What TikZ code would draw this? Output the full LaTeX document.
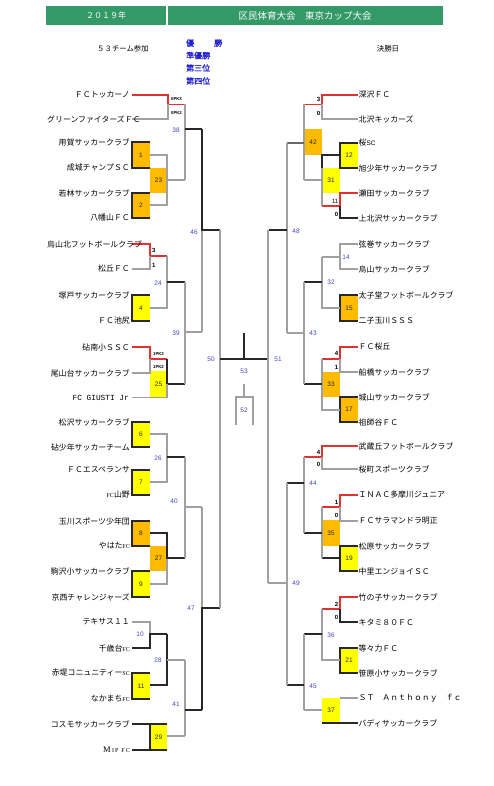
\documentclass[tikz,border=0pt]{standalone}
\usepackage{fontspec}
\setmainfont{Noto Sans CJK JP}
\newfontfamily\latf{Liberation Sans}
\newfontfamily\monof{Liberation Mono}
\newfontfamily\serff{Liberation Serif}
\newfontfamily\jpbold[FakeBold=1.2]{Noto Sans CJK JP}
\definecolor{hdr}{RGB}{51,153,102}
\definecolor{org}{RGB}{255,187,0}
\definecolor{yel}{RGB}{255,255,0}
\definecolor{lgray}{RGB}{160,160,160}
\definecolor{dk}{RGB}{40,40,40}
\definecolor{rdl}{RGB}{225,50,50}
\definecolor{mblue}{RGB}{70,70,200}
\definecolor{tblue}{RGB}{30,30,210}
\tikzset{
 gr/.style={draw=lgray,line width=1.1pt},
 bk/.style={draw=dk,line width=1.1pt},
 rd/.style={draw=rdl,line width=1.6pt},
 teamL/.style={anchor=east,inner sep=0pt,font=\fontsize{7.9}{9}\selectfont},
 teamR/.style={anchor=west,inner sep=0pt,font=\fontsize{7.9}{9}\selectfont},
 mno/.style={text=mblue,inner sep=0pt,font=\latf\fontsize{6.5}{7}\selectfont},
 bno/.style={text=dk,inner sep=0pt,font=\latf\fontsize{6.5}{7}\selectfont},
 scr/.style={inner sep=0pt,font=\latf\bfseries\fontsize{6}{7}\selectfont},
 pk/.style={inner sep=0pt,font=\latf\bfseries\fontsize{4.3}{5}\selectfont},
 hd/.style={text=white,inner sep=0pt},
 rank/.style={text=tblue,anchor=west,inner sep=0pt,font=\jpbold\fontsize{8}{9}\selectfont},
}
\newcommand\mbx[6]{\fill[#5] (#1,#2) rectangle (#3,#4); \node[bno] at ({(#1+#3)/2},{(#2+#4)/2}) {#6};}
\newcommand\tL[3]{\node[teamL] (#1) at (130,#2) {#3};}
\newcommand\tR[3]{\node[teamR] (#1) at (358.5,#2) {#3};}
\newcommand\smfc[1]{{\serff\fontsize{6}{7}\selectfont #1}}
\begin{document}
\begin{tikzpicture}[x=1pt,y=-1pt]
\fill[white] (0,0) rectangle (494,786);
\useasboundingbox (0,0) rectangle (494,786);
% header
\fill[hdr] (46,6) rectangle (166,25);
\fill[hdr] (168,6) rectangle (443,25);
\node[hd,font=\fontsize{8}{9}\selectfont] (year) at (106,15.5) {２０１９年};
\node[hd,font=\fontsize{9.5}{10}\selectfont] (title) at (305,15.5) {区民体育大会　東京カップ大会};
\node[inner sep=0pt,font=\fontsize{7.4}{9}\selectfont] (teams) at (123,49) {５３チーム参加};
\node[inner sep=0pt,font=\fontsize{7.4}{9}\selectfont] (final) at (388,49) {決勝日};
\node[rank] (r1) at (186,43) {優\hspace{20pt}勝};
\node[rank] (r2) at (186,55.5) {準優勝};
\node[rank] (r3) at (186,68) {第三位};
\node[rank] (r4) at (186,81) {第四位};
% ---------------- boxes left
\mbx{132}{142}{150}{168}{org}{1}
\mbx{132}{193}{150}{218}{org}{2}
\mbx{150}{168}{167}{193}{org}{23}
\mbx{132}{295}{150}{321}{yel}{4}
\mbx{150}{371}{167}{397}{yel}{25}
\mbx{132}{422}{150}{447}{yel}{6}
\mbx{132}{470}{150}{495}{yel}{7}
\mbx{132}{521}{150}{546}{org}{8}
\mbx{132}{571}{150}{597}{yel}{9}
\mbx{150}{546}{167}{571}{org}{27}
\mbx{132}{673}{150}{699}{yel}{11}
\mbx{150}{724}{167}{750}{yel}{29}
% ---------------- boxes right
\mbx{340}{143}{358}{168}{yel}{12}
\mbx{322}{168}{340}{193}{yel}{31}
\mbx{304}{129}{322}{155}{org}{42}
\mbx{340}{295}{358}{321}{org}{15}
\mbx{340}{397}{358}{422}{org}{17}
\mbx{322}{372}{340}{397}{org}{33}
\mbx{340}{546}{358}{571}{yel}{19}
\mbx{322}{520}{340}{546}{org}{35}
\mbx{340}{648}{358}{673}{yel}{21}
\mbx{322}{698}{340}{723}{yel}{37}
% ---------------- left lines
\draw[rd] (132,95) -- (168,95) -- (168,104.5) -- (185,104.5);
\draw[gr] (132,119) -- (168,119) -- (168,104.5);
\node[pk] (pk1) at (176.5,99.5) {0PK3};
\node[pk] (pk2) at (176.5,113) {0PK2};
\draw[bk] (150,142) -- (132,142) -- (132,168) -- (150,168);
\draw[bk] (150,193) -- (132,193) -- (132,218) -- (150,218);
\draw[gr] (150,155) -- (167,155) -- (167,205) -- (150,205);
\draw[gr] (167,180) -- (185,180);
\draw[gr] (185,104.5) -- (185,180);
\draw[bk] (185,129) -- (202,129);
\node[mno] (n38) at (176,130) {38};
\draw[rd] (132,244) -- (150,244) -- (150,256) -- (167,256);
\draw[gr] (132,269) -- (150,269) -- (150,256);
\node[scr,anchor=west] (s3a) at (152,250.5) {3};
\node[scr,anchor=west] (s3b) at (152,265) {1};
\draw[bk] (150,295) -- (132,295) -- (132,321) -- (150,321);
\draw[gr] (150,308) -- (167,308) -- (167,256);
\draw[bk] (167,282) -- (185,282);
\node[mno] (n24) at (158,283) {24};
\draw[rd] (132,347) -- (150,347) -- (150,359) -- (167,359);
\draw[gr] (132,373) -- (150,373) -- (150,359);
\node[pk] (pk3) at (158.5,354) {1PK3};
\node[pk] (pk4) at (158.5,367) {1PK2};
\draw[bk] (167,359) -- (167,384) -- (185,384);
\draw[gr] (132,397.5) -- (167,397.5) -- (167,384);
\draw[gr] (185,282) -- (185,384);
\draw[gr] (185,332) -- (202,332);
\node[mno] (n39) at (176,333) {39};
\draw[gr] (202,230) -- (202,332);
\draw[bk] (202,129) -- (202,230) -- (220,230);
\node[mno] (n46) at (194,232) {46};
\draw[bk] (150,422) -- (132,422) -- (132,447) -- (150,447);
\draw[bk] (150,470) -- (132,470) -- (132,495) -- (150,495);
\draw[gr] (150,434) -- (167,434) -- (167,482) -- (150,482);
\draw[bk] (167,457) -- (185,457);
\node[mno] (n26) at (158,458) {26};
\draw[bk] (150,521) -- (132,521) -- (132,546) -- (150,546);
\draw[bk] (150,571) -- (132,571) -- (132,597) -- (150,597);
\draw[gr] (167,558) -- (167,584) -- (150,584);
\draw[bk] (150,533) -- (167,533) -- (167,558) -- (185,558);
\draw[gr] (185,457) -- (185,558);
\draw[gr] (185,507) -- (202,507);
\node[mno] (n40) at (174,501) {40};
\draw[gr] (132,622) -- (150,622) -- (150,634);
\draw[bk] (132,648) -- (150,648) -- (150,634) -- (167,634);
\node[mno] (n10) at (140,634) {10};
\draw[bk] (150,673) -- (132,673) -- (132,699) -- (150,699);
\draw[bk] (150,685) -- (167,685) -- (167,634);
\draw[gr] (167,660) -- (185,660);
\node[mno] (n28) at (158,660) {28};
\draw[bk] (132,724) -- (167,724);
\draw[bk] (132,750) -- (167,750);
\draw[bk] (150,724) -- (150,750);
\draw[gr] (167,736) -- (185,736);
\draw[gr] (185,660) -- (185,736);
\draw[bk] (185,710) -- (202,710);
\node[mno] (n41) at (176,704) {41};
\draw[gr] (202,507) -- (202,608);
\draw[bk] (202,710) -- (202,608) -- (220,608);
\node[mno] (n47) at (191,608) {47};
\draw[gr] (220,230) -- (220,608);
\node[mno] (n50) at (211,359) {50};
% ---------------- centre
\draw[bk] (220,359) -- (268,359);
\draw[bk] (244,333) -- (244,359);
\node[mno] (n53) at (244,371) {53};
\draw[gr] (244,384) -- (244,397);
\draw[gr] (236,425) -- (236,397) -- (253,397) -- (253,425);
\node[mno] (n52) at (244,410) {52};
% ---------------- right lines
\draw[rd] (358,95) -- (322,95) -- (322,104.5) -- (304,104.5);
\draw[gr] (358,119) -- (322,119) -- (322,104.5);
\node[scr,anchor=east] (q1) at (320.5,99.5) {3};
\node[scr,anchor=east] (q2) at (320.5,113) {0};
\draw[bk] (358,143) -- (340,143) -- (340,168) -- (358,168);
\draw[gr] (322,155) -- (322,206);
\draw[bk] (340,155) -- (322,155) -- (322,168);
\draw[rd] (358,193) -- (340,193) -- (340,206) -- (322,206);
\draw[bk] (358,218) -- (340,218) -- (340,206);
\node[scr,anchor=east,font=\latf\fontsize{6}{7}\selectfont] (q3) at (338.5,201) {11};
\node[scr,anchor=east] (q4) at (338.5,214.5) {0};
\draw[gr] (322,180) -- (304,180);
\draw[gr] (304,104.5) -- (304,180);
\draw[draw=dk!70,line width=1.1pt] (304,143) -- (287,143);
\draw[gr] (358,244) -- (340,244) -- (340,269) -- (358,269);
\draw[gr] (340,257) -- (322,257);
\node[mno] (n14) at (346,257) {14};
\draw[bk] (358,295) -- (340,295) -- (340,321) -- (358,321);
\draw[gr] (340,308) -- (322,308) -- (322,257);
\draw[bk] (322,282) -- (304,282);
\node[mno] (n32) at (331,282) {32};
\draw[rd] (358,347) -- (340,347) -- (340,359) -- (322,359);
\draw[gr] (358,372) -- (340,372) -- (340,359);
\node[scr,anchor=east] (q5) at (338.5,353) {4};
\node[scr,anchor=east] (q6) at (338.5,367) {1};
\draw[bk] (358,397) -- (340,397) -- (340,422) -- (358,422);
\draw[gr] (340,410) -- (322,410) -- (322,359);
\draw[bk] (322,384) -- (304,384);
\draw[gr] (304,282) -- (304,384);
\draw[gr] (304,333) -- (287,333);
\node[mno] (n43) at (313,333) {43};
\draw[gr] (287,143) -- (287,333);
\draw[bk] (287,230) -- (269,230);
\node[mno] (n48) at (296,231) {48};
\draw[rd] (358,446) -- (322,446) -- (322,457) -- (304,457);
\draw[gr] (358,469) -- (322,469) -- (322,457);
\node[scr,anchor=east] (q7) at (320.5,452) {4};
\node[scr,anchor=east] (q8) at (320.5,464) {0};
\draw[rd] (358,495) -- (340,495) -- (340,507) -- (322,507);
\draw[gr] (358,521) -- (340,521) -- (340,507);
\node[scr,anchor=east] (q9) at (338.5,502) {1};
\node[scr,anchor=east] (q10) at (338.5,515) {0};
\draw[bk] (358,546) -- (340,546) -- (340,571) -- (358,571);
\draw[bk] (340,558) -- (322,558);
\draw[gr] (322,507) -- (322,558);
\draw[bk] (322,533) -- (304,533);
\draw[gr] (304,457) -- (304,533);
\draw[bk] (304,483) -- (287,483);
\node[mno] (n44) at (313,483) {44};
\draw[rd] (358,597) -- (340,597) -- (340,609) -- (322,609);
\draw[bk] (358,622) -- (340,622) -- (340,609);
\node[scr,anchor=east] (q11) at (338.5,604) {2};
\node[scr,anchor=east] (q12) at (338.5,617) {0};
\draw[bk] (358,648) -- (340,648) -- (340,673) -- (358,673);
\draw[gr] (340,660) -- (322,660) -- (322,609);
\draw[bk] (322,634) -- (304,634);
\node[mno] (n36) at (331,635) {36};
\draw[gr] (358,698) -- (340,698);
\draw[bk] (358,723) -- (322,723);
\draw[gr] (322,710) -- (304,710);
\draw[gr] (304,634) -- (304,710);
\draw[bk] (304,685) -- (287,685);
\node[mno] (n45) at (313,686) {45};
\draw[gr] (287,483) -- (287,685);
\draw[gr] (287,583) -- (268,583);
\node[mno] (n49) at (296,583) {49};
\draw[gr] (268,230) -- (268,583);
\node[mno] (n51) at (278,359) {51};
% ---------------- left teams
\tL{L1}{95}{ＦＣトッカーノ}
\node[teamL,anchor=west] (L2) at (47,119) {グリーンファイターズＦＣ};
\tL{L3}{142}{用賀サッカークラブ}
\tL{L4}{168}{成城チャンプＳＣ}
\tL{L5}{193}{若林サッカークラブ}
\tL{L6}{218}{八幡山ＦＣ}
\node[teamL,anchor=west] (L7) at (47,244) {烏山北フットボールクラブ};
\tL{L8}{269}{松丘ＦＣ}
\tL{L9}{295}{塚戸サッカークラブ}
\tL{L10}{321}{ＦＣ池尻}
\tL{L11}{347}{砧南小ＳＳＣ}
\tL{L12}{373}{尾山台サッカークラブ}
\node[teamL,font=\monof\fontsize{7.8}{9}\selectfont] (L13) at (129,397.5) {FC GIUSTI Jr};
\tL{L14}{422}{松沢サッカークラブ}
\tL{L15}{447}{砧少年サッカーチーム}
\tL{L16}{470}{ＦＣエスペランサ}
\tL{L17}{495}{\smfc{FC}山野}
\tL{L18}{521}{玉川スポーツ少年団}
\tL{L19}{546}{やはた\smfc{FC}}
\tL{L20}{571}{駒沢小サッカークラブ}
\tL{L21}{597}{京西チャレンジャーズ}
\tL{L22}{622}{テキサス１１}
\tL{L23}{648}{千歳台\smfc{FC}}
\tL{L24}{673}{赤堤コニュニティー\smfc{SC}}
\tL{L25}{699}{なかまち\smfc{FC}}
\tL{L26}{724}{コスモサッカークラブ}
\tL{L27}{750}{{\serff\fontsize{8.5}{9}\selectfont M\,}{\serff\fontsize{6}{7}\selectfont I\,P\ \ F\,C}}
% ---------------- right teams
\tR{R1}{95}{深沢ＦＣ}
\tR{R2}{119}{北沢キッカーズ}
\tR{R3}{143}{桜{\latf\fontsize{6.5}{7}\selectfont SC}}
\tR{R4}{168}{旭少年サッカークラブ}
\tR{R5}{193}{瀬田サッカークラブ}
\tR{R6}{218}{上北沢サッカークラブ}
\tR{R7}{244}{弦巻サッカークラブ}
\tR{R8}{269}{烏山サッカークラブ}
\tR{R9}{295}{太子堂フットボールクラブ}
\tR{R10}{321}{二子玉川ＳＳＳ}
\tR{R11}{347}{ＦＣ桜丘}
\tR{R12}{372}{船橋サッカークラブ}
\tR{R13}{397}{城山サッカークラブ}
\tR{R14}{422}{祖師谷ＦＣ}
\tR{R15}{446}{武蔵丘フットボールクラブ}
\tR{R16}{469}{桜町スポーツクラブ}
\tR{R17}{495}{ＩＮＡＣ多摩川ジュニア}
\tR{R18}{521}{ＦＣサラマンドラ明正}
\tR{R19}{546}{松原サッカークラブ}
\tR{R20}{571}{中里エンジョイＳＣ}
\tR{R21}{597}{竹の子サッカークラブ}
\tR{R22}{622}{キタミ８０ＦＣ}
\tR{R23}{648}{等々力ＦＣ}
\tR{R24}{673}{笹原小サッカークラブ}
\tR{R25}{698}{ＳＴ　Ａｎｔｈｏｎｙ　ｆｃ}
\tR{R26}{723}{バディサッカークラブ}
\end{tikzpicture}
\end{document}
